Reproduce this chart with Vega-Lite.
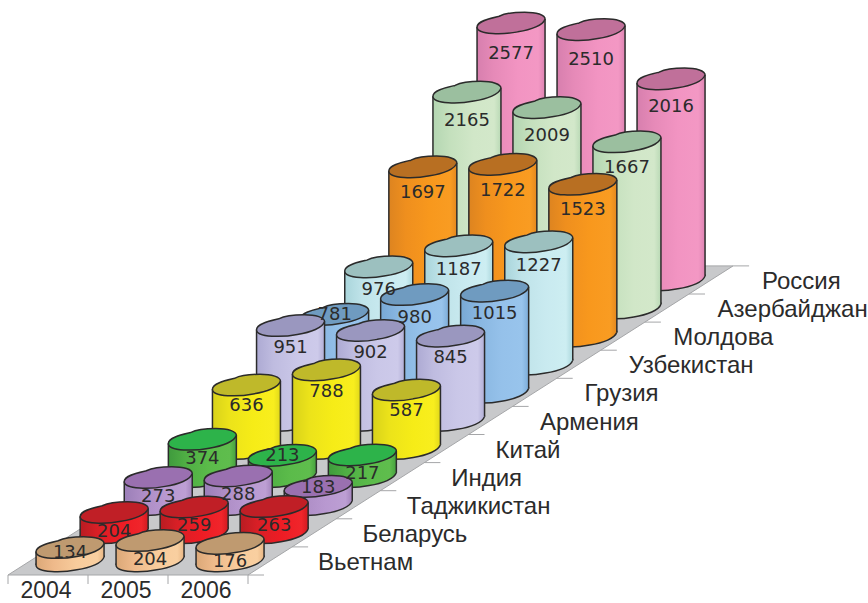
{"$schema":"https://vega.github.io/schema/vega-lite/v6.json","width":868,"height":603,"padding":0,"autosize":"none","background":"white",
"config":{"view":{"stroke":null},"axis":{"disable":true},"legend":{"disable":true},
"point":{"shape":"M-1,.12 C-1,-.06 -.6,-.14 -.35,-.2 C-.15,-.3 .1,-.32 .4,-.32 C.75,-.32 1,-.24 1,-.12 C.95,.06 .6,.2 .2,.26 C-.2,.34 -1,.36 -1,.12 Z","size":4624,"filled":true,"stroke":"#2b2b2b","strokeWidth":1.5,"opacity":1},
"rule":{"stroke":"#2b2b2b","strokeWidth":1.5}},
"datasets":{"main":[
{"country":"Вьетнам","year":2004,"value":134},{"country":"Вьетнам","year":2005,"value":204},{"country":"Вьетнам","year":2006,"value":176},
{"country":"Беларусь","year":2004,"value":204},{"country":"Беларусь","year":2005,"value":259},{"country":"Беларусь","year":2006,"value":263},
{"country":"Таджикистан","year":2004,"value":273},{"country":"Таджикистан","year":2005,"value":288},{"country":"Таджикистан","year":2006,"value":183},
{"country":"Индия","year":2004,"value":374},{"country":"Индия","year":2005,"value":213},{"country":"Индия","year":2006,"value":217},
{"country":"Китай","year":2004,"value":636},{"country":"Китай","year":2005,"value":788},{"country":"Китай","year":2006,"value":587},
{"country":"Армения","year":2004,"value":951},{"country":"Армения","year":2005,"value":902},{"country":"Армения","year":2006,"value":845},
{"country":"Грузия","year":2004,"value":781},{"country":"Грузия","year":2005,"value":980},{"country":"Грузия","year":2006,"value":1015},
{"country":"Узбекистан","year":2004,"value":976},{"country":"Узбекистан","year":2005,"value":1187},{"country":"Узбекистан","year":2006,"value":1227},
{"country":"Молдова","year":2004,"value":1697},{"country":"Молдова","year":2005,"value":1722},{"country":"Молдова","year":2006,"value":1523},
{"country":"Азербайджан","year":2004,"value":2165},{"country":"Азербайджан","year":2005,"value":2009},{"country":"Азербайджан","year":2006,"value":1667},
{"country":"Россия","year":2004,"value":2577},{"country":"Россия","year":2005,"value":2510},{"country":"Россия","year":2006,"value":2016}]},
"layer":[
{"data":{"values":[{"b":0},{"b":11}]},"transform":[{"calculate":"575-28.1*datum.b","as":"y"},{"calculate":"8+44.1*datum.b","as":"xl"},{"calculate":"248+44.1*datum.b","as":"xr"}],
 "mark":{"type":"area","orient":"horizontal","fill":"#c8c9cb","stroke":"#a5a6a8","strokeWidth":1},
 "encoding":{"x":{"field":"xl","type":"quantitative","stack":null,"scale":{"domain":[0,868],"nice":false,"zero":false}},"x2":{"field":"xr"},"y":{"field":"y","type":"quantitative","scale":{"domain":[603,0],"nice":false,"zero":false}}}},
{"data":{"values":[{"b":0},{"b":1},{"b":2},{"b":3},{"b":4},{"b":5},{"b":6},{"b":7},{"b":8},{"b":9},{"b":10},{"b":11}]},"transform":[{"calculate":"575-28.1*datum.b","as":"y"},{"calculate":"248+44.1*datum.b","as":"x"},{"calculate":"datum.x+16","as":"x2"}],
 "mark":{"type":"rule","stroke":"#a5a6a8","strokeWidth":1},"encoding":{"x":{"field":"x","type":"quantitative"},"x2":{"field":"x2"},"y":{"field":"y","type":"quantitative"}}},
{"data":{"values":[{"c":0},{"c":1},{"c":2},{"c":3}]},"transform":[{"calculate":"8+80*datum.c","as":"x"},{"calculate":"575","as":"y"},{"calculate":"584","as":"y2"}],
 "mark":{"type":"rule","stroke":"#a5a6a8","strokeWidth":1},"encoding":{"x":{"field":"x","type":"quantitative"},"y":{"field":"y","type":"quantitative"},"y2":{"field":"y2"}}},
{"data":{"name":"main"},
 "transform":[
 {"calculate":"indexof(['Вьетнам','Беларусь','Таджикистан','Индия','Китай','Армения','Грузия','Узбекистан','Молдова','Азербайджан','Россия'],datum.country)","as":"r"},
 {"calculate":"48+80*(datum.year-2004)+44.1*(datum.r+0.5)","as":"cx"},
 {"calculate":"575-28.1*(datum.r+0.5)","as":"by"},
 {"calculate":"datum.by-0.0997*datum.value","as":"ty"},
 {"calculate":"[-1,1]","as":"side"},{"flatten":["side"]},
 {"calculate":"datum.cx+34*datum.side","as":"sx"},
 {"calculate":"datum.ty-4*datum.side","as":"sty"},
 {"calculate":"datum.by-4*datum.side","as":"sby"},
 {"calculate":"datum.ty+(indexof([183,213,781],datum.value)>=0?1:datum.value==134?5:18+datum.value*0.005)","as":"ly"}],
 "layer":[
 {"transform":[{"filter":"datum.r==10"}],"layer":[
  {"transform":[{"filter":"datum.side==1"}],"mark":{"type":"point","fill":{"gradient":"linear","x1":0,"x2":1,"y1":0,"y2":0,"stops":[{"offset":0,"color":"#d77fae"},{"offset":0.25,"color":"#e68ab8"},{"offset":0.6,"color":"#f294c2"},{"offset":0.9,"color":"#f398c4"},{"offset":1,"color":"#de83b2"}]}},"encoding":{"x":{"field":"cx","type":"quantitative"},"y":{"field":"by","type":"quantitative"}}},
  {"mark":{"type":"area","fill":{"gradient":"linear","x1":0,"x2":1,"y1":0,"y2":0,"stops":[{"offset":0,"color":"#d77fae"},{"offset":0.25,"color":"#e68ab8"},{"offset":0.6,"color":"#f294c2"},{"offset":0.9,"color":"#f398c4"},{"offset":1,"color":"#de83b2"}]}},"encoding":{"x":{"field":"sx","type":"quantitative"},"y":{"field":"sty","type":"quantitative","stack":null},"y2":{"field":"sby"},"detail":{"field":"year"}}},
  {"mark":"rule","encoding":{"x":{"field":"sx","type":"quantitative"},"y":{"field":"sty","type":"quantitative"},"y2":{"field":"sby"}}},
  {"transform":[{"filter":"datum.side==1"}],"mark":{"type":"point","fill":"#c0709a"},"encoding":{"x":{"field":"cx","type":"quantitative"},"y":{"field":"ty","type":"quantitative"}}}]},
 {"transform":[{"filter":"datum.r==9"}],"layer":[
  {"transform":[{"filter":"datum.side==1"}],"mark":{"type":"point","fill":{"gradient":"linear","x1":0,"x2":1,"y1":0,"y2":0,"stops":[{"offset":0,"color":"#b4d6b2"},{"offset":0.25,"color":"#c4e0bd"},{"offset":0.6,"color":"#d1e7c8"},{"offset":0.9,"color":"#d3e8ca"},{"offset":1,"color":"#b9d9b5"}]}},"encoding":{"x":{"field":"cx","type":"quantitative"},"y":{"field":"by","type":"quantitative"}}},
  {"mark":{"type":"area","fill":{"gradient":"linear","x1":0,"x2":1,"y1":0,"y2":0,"stops":[{"offset":0,"color":"#b4d6b2"},{"offset":0.25,"color":"#c4e0bd"},{"offset":0.6,"color":"#d1e7c8"},{"offset":0.9,"color":"#d3e8ca"},{"offset":1,"color":"#b9d9b5"}]}},"encoding":{"x":{"field":"sx","type":"quantitative"},"y":{"field":"sty","type":"quantitative","stack":null},"y2":{"field":"sby"},"detail":{"field":"year"}}},
  {"mark":"rule","encoding":{"x":{"field":"sx","type":"quantitative"},"y":{"field":"sty","type":"quantitative"},"y2":{"field":"sby"}}},
  {"transform":[{"filter":"datum.side==1"}],"mark":{"type":"point","fill":"#9bbf9f"},"encoding":{"x":{"field":"cx","type":"quantitative"},"y":{"field":"ty","type":"quantitative"}}}]},
 {"transform":[{"filter":"datum.r==8"}],"layer":[
  {"transform":[{"filter":"datum.side==1"}],"mark":{"type":"point","fill":{"gradient":"linear","x1":0,"x2":1,"y1":0,"y2":0,"stops":[{"offset":0,"color":"#dd8420"},{"offset":0.25,"color":"#ef8f1e"},{"offset":0.6,"color":"#f8981d"},{"offset":0.9,"color":"#f99c22"},{"offset":1,"color":"#e38820"}]}},"encoding":{"x":{"field":"cx","type":"quantitative"},"y":{"field":"by","type":"quantitative"}}},
  {"mark":{"type":"area","fill":{"gradient":"linear","x1":0,"x2":1,"y1":0,"y2":0,"stops":[{"offset":0,"color":"#dd8420"},{"offset":0.25,"color":"#ef8f1e"},{"offset":0.6,"color":"#f8981d"},{"offset":0.9,"color":"#f99c22"},{"offset":1,"color":"#e38820"}]}},"encoding":{"x":{"field":"sx","type":"quantitative"},"y":{"field":"sty","type":"quantitative","stack":null},"y2":{"field":"sby"},"detail":{"field":"year"}}},
  {"mark":"rule","encoding":{"x":{"field":"sx","type":"quantitative"},"y":{"field":"sty","type":"quantitative"},"y2":{"field":"sby"}}},
  {"transform":[{"filter":"datum.side==1"}],"mark":{"type":"point","fill":"#b86f22"},"encoding":{"x":{"field":"cx","type":"quantitative"},"y":{"field":"ty","type":"quantitative"}}}]},
 {"transform":[{"filter":"datum.r==7"}],"layer":[
  {"transform":[{"filter":"datum.side==1"}],"mark":{"type":"point","fill":{"gradient":"linear","x1":0,"x2":1,"y1":0,"y2":0,"stops":[{"offset":0,"color":"#a9d5db"},{"offset":0.25,"color":"#bfe3e9"},{"offset":0.6,"color":"#c9eaf0"},{"offset":0.9,"color":"#cdeef2"},{"offset":1,"color":"#acd8dd"}]}},"encoding":{"x":{"field":"cx","type":"quantitative"},"y":{"field":"by","type":"quantitative"}}},
  {"mark":{"type":"area","fill":{"gradient":"linear","x1":0,"x2":1,"y1":0,"y2":0,"stops":[{"offset":0,"color":"#a9d5db"},{"offset":0.25,"color":"#bfe3e9"},{"offset":0.6,"color":"#c9eaf0"},{"offset":0.9,"color":"#cdeef2"},{"offset":1,"color":"#acd8dd"}]}},"encoding":{"x":{"field":"sx","type":"quantitative"},"y":{"field":"sty","type":"quantitative","stack":null},"y2":{"field":"sby"},"detail":{"field":"year"}}},
  {"mark":"rule","encoding":{"x":{"field":"sx","type":"quantitative"},"y":{"field":"sty","type":"quantitative"},"y2":{"field":"sby"}}},
  {"transform":[{"filter":"datum.side==1"}],"mark":{"type":"point","fill":"#9cc0bf"},"encoding":{"x":{"field":"cx","type":"quantitative"},"y":{"field":"ty","type":"quantitative"}}}]},
 {"transform":[{"filter":"datum.r==6"}],"layer":[
  {"transform":[{"filter":"datum.side==1"}],"mark":{"type":"point","fill":{"gradient":"linear","x1":0,"x2":1,"y1":0,"y2":0,"stops":[{"offset":0,"color":"#78a8d4"},{"offset":0.25,"color":"#88b6e0"},{"offset":0.6,"color":"#95c1ea"},{"offset":0.9,"color":"#98c4ec"},{"offset":1,"color":"#7cacd8"}]}},"encoding":{"x":{"field":"cx","type":"quantitative"},"y":{"field":"by","type":"quantitative"}}},
  {"mark":{"type":"area","fill":{"gradient":"linear","x1":0,"x2":1,"y1":0,"y2":0,"stops":[{"offset":0,"color":"#78a8d4"},{"offset":0.25,"color":"#88b6e0"},{"offset":0.6,"color":"#95c1ea"},{"offset":0.9,"color":"#98c4ec"},{"offset":1,"color":"#7cacd8"}]}},"encoding":{"x":{"field":"sx","type":"quantitative"},"y":{"field":"sty","type":"quantitative","stack":null},"y2":{"field":"sby"},"detail":{"field":"year"}}},
  {"mark":"rule","encoding":{"x":{"field":"sx","type":"quantitative"},"y":{"field":"sty","type":"quantitative"},"y2":{"field":"sby"}}},
  {"transform":[{"filter":"datum.side==1"}],"mark":{"type":"point","fill":"#6f9bc0"},"encoding":{"x":{"field":"cx","type":"quantitative"},"y":{"field":"ty","type":"quantitative"}}}]},
 {"transform":[{"filter":"datum.r==5"}],"layer":[
  {"transform":[{"filter":"datum.side==1"}],"mark":{"type":"point","fill":{"gradient":"linear","x1":0,"x2":1,"y1":0,"y2":0,"stops":[{"offset":0,"color":"#adaad3"},{"offset":0.25,"color":"#bfbce0"},{"offset":0.6,"color":"#cac7e8"},{"offset":0.9,"color":"#cdcaea"},{"offset":1,"color":"#b2afd6"}]}},"encoding":{"x":{"field":"cx","type":"quantitative"},"y":{"field":"by","type":"quantitative"}}},
  {"mark":{"type":"area","fill":{"gradient":"linear","x1":0,"x2":1,"y1":0,"y2":0,"stops":[{"offset":0,"color":"#adaad3"},{"offset":0.25,"color":"#bfbce0"},{"offset":0.6,"color":"#cac7e8"},{"offset":0.9,"color":"#cdcaea"},{"offset":1,"color":"#b2afd6"}]}},"encoding":{"x":{"field":"sx","type":"quantitative"},"y":{"field":"sty","type":"quantitative","stack":null},"y2":{"field":"sby"},"detail":{"field":"year"}}},
  {"mark":"rule","encoding":{"x":{"field":"sx","type":"quantitative"},"y":{"field":"sty","type":"quantitative"},"y2":{"field":"sby"}}},
  {"transform":[{"filter":"datum.side==1"}],"mark":{"type":"point","fill":"#9a97bf"},"encoding":{"x":{"field":"cx","type":"quantitative"},"y":{"field":"ty","type":"quantitative"}}}]},
 {"transform":[{"filter":"datum.r==4"}],"layer":[
  {"transform":[{"filter":"datum.side==1"}],"mark":{"type":"point","fill":{"gradient":"linear","x1":0,"x2":1,"y1":0,"y2":0,"stops":[{"offset":0,"color":"#d8d21a"},{"offset":0.25,"color":"#ece31a"},{"offset":0.6,"color":"#f6ec17"},{"offset":0.9,"color":"#f8ee1e"},{"offset":1,"color":"#e0d81a"}]}},"encoding":{"x":{"field":"cx","type":"quantitative"},"y":{"field":"by","type":"quantitative"}}},
  {"mark":{"type":"area","fill":{"gradient":"linear","x1":0,"x2":1,"y1":0,"y2":0,"stops":[{"offset":0,"color":"#d8d21a"},{"offset":0.25,"color":"#ece31a"},{"offset":0.6,"color":"#f6ec17"},{"offset":0.9,"color":"#f8ee1e"},{"offset":1,"color":"#e0d81a"}]}},"encoding":{"x":{"field":"sx","type":"quantitative"},"y":{"field":"sty","type":"quantitative","stack":null},"y2":{"field":"sby"},"detail":{"field":"year"}}},
  {"mark":"rule","encoding":{"x":{"field":"sx","type":"quantitative"},"y":{"field":"sty","type":"quantitative"},"y2":{"field":"sby"}}},
  {"transform":[{"filter":"datum.side==1"}],"mark":{"type":"point","fill":"#bfb92a"},"encoding":{"x":{"field":"cx","type":"quantitative"},"y":{"field":"ty","type":"quantitative"}}}]},
 {"transform":[{"filter":"datum.r==3"}],"layer":[
  {"transform":[{"filter":"datum.side==1"}],"mark":{"type":"point","fill":{"gradient":"linear","x1":0,"x2":1,"y1":0,"y2":0,"stops":[{"offset":0,"color":"#3f9a3d"},{"offset":0.25,"color":"#4fae44"},{"offset":0.6,"color":"#5bbb4a"},{"offset":0.9,"color":"#5fbd4d"},{"offset":1,"color":"#45a03f"}]}},"encoding":{"x":{"field":"cx","type":"quantitative"},"y":{"field":"by","type":"quantitative"}}},
  {"mark":{"type":"area","fill":{"gradient":"linear","x1":0,"x2":1,"y1":0,"y2":0,"stops":[{"offset":0,"color":"#3f9a3d"},{"offset":0.25,"color":"#4fae44"},{"offset":0.6,"color":"#5bbb4a"},{"offset":0.9,"color":"#5fbd4d"},{"offset":1,"color":"#45a03f"}]}},"encoding":{"x":{"field":"sx","type":"quantitative"},"y":{"field":"sty","type":"quantitative","stack":null},"y2":{"field":"sby"},"detail":{"field":"year"}}},
  {"mark":"rule","encoding":{"x":{"field":"sx","type":"quantitative"},"y":{"field":"sty","type":"quantitative"},"y2":{"field":"sby"}}},
  {"transform":[{"filter":"datum.side==1"}],"mark":{"type":"point","fill":"#2db34a"},"encoding":{"x":{"field":"cx","type":"quantitative"},"y":{"field":"ty","type":"quantitative"}}}]},
 {"transform":[{"filter":"datum.r==2"}],"layer":[
  {"transform":[{"filter":"datum.side==1"}],"mark":{"type":"point","fill":{"gradient":"linear","x1":0,"x2":1,"y1":0,"y2":0,"stops":[{"offset":0,"color":"#9b7fb8"},{"offset":0.25,"color":"#ac8cc4"},{"offset":0.6,"color":"#b898d0"},{"offset":0.9,"color":"#bd9fd4"},{"offset":1,"color":"#a384bc"}]}},"encoding":{"x":{"field":"cx","type":"quantitative"},"y":{"field":"by","type":"quantitative"}}},
  {"mark":{"type":"area","fill":{"gradient":"linear","x1":0,"x2":1,"y1":0,"y2":0,"stops":[{"offset":0,"color":"#9b7fb8"},{"offset":0.25,"color":"#ac8cc4"},{"offset":0.6,"color":"#b898d0"},{"offset":0.9,"color":"#bd9fd4"},{"offset":1,"color":"#a384bc"}]}},"encoding":{"x":{"field":"sx","type":"quantitative"},"y":{"field":"sty","type":"quantitative","stack":null},"y2":{"field":"sby"},"detail":{"field":"year"}}},
  {"mark":"rule","encoding":{"x":{"field":"sx","type":"quantitative"},"y":{"field":"sty","type":"quantitative"},"y2":{"field":"sby"}}},
  {"transform":[{"filter":"datum.side==1"}],"mark":{"type":"point","fill":"#9a70b0"},"encoding":{"x":{"field":"cx","type":"quantitative"},"y":{"field":"ty","type":"quantitative"}}}]},
 {"transform":[{"filter":"datum.r==1"}],"layer":[
  {"transform":[{"filter":"datum.side==1"}],"mark":{"type":"point","fill":{"gradient":"linear","x1":0,"x2":1,"y1":0,"y2":0,"stops":[{"offset":0,"color":"#b81c22"},{"offset":0.25,"color":"#d81f26"},{"offset":0.6,"color":"#ed1c24"},{"offset":0.9,"color":"#f0252b"},{"offset":1,"color":"#d11a20"}]}},"encoding":{"x":{"field":"cx","type":"quantitative"},"y":{"field":"by","type":"quantitative"}}},
  {"mark":{"type":"area","fill":{"gradient":"linear","x1":0,"x2":1,"y1":0,"y2":0,"stops":[{"offset":0,"color":"#b81c22"},{"offset":0.25,"color":"#d81f26"},{"offset":0.6,"color":"#ed1c24"},{"offset":0.9,"color":"#f0252b"},{"offset":1,"color":"#d11a20"}]}},"encoding":{"x":{"field":"sx","type":"quantitative"},"y":{"field":"sty","type":"quantitative","stack":null},"y2":{"field":"sby"},"detail":{"field":"year"}}},
  {"mark":"rule","encoding":{"x":{"field":"sx","type":"quantitative"},"y":{"field":"sty","type":"quantitative"},"y2":{"field":"sby"}}},
  {"transform":[{"filter":"datum.side==1"}],"mark":{"type":"point","fill":"#c01f26"},"encoding":{"x":{"field":"cx","type":"quantitative"},"y":{"field":"ty","type":"quantitative"}}}]},
 {"transform":[{"filter":"datum.r==0"}],"layer":[
  {"transform":[{"filter":"datum.side==1"}],"mark":{"type":"point","fill":{"gradient":"linear","x1":0,"x2":1,"y1":0,"y2":0,"stops":[{"offset":0,"color":"#dba878"},{"offset":0.25,"color":"#eeb98a"},{"offset":0.6,"color":"#f8cc9c"},{"offset":0.9,"color":"#f9cfa0"},{"offset":1,"color":"#e8b684"}]}},"encoding":{"x":{"field":"cx","type":"quantitative"},"y":{"field":"by","type":"quantitative"}}},
  {"mark":{"type":"area","fill":{"gradient":"linear","x1":0,"x2":1,"y1":0,"y2":0,"stops":[{"offset":0,"color":"#dba878"},{"offset":0.25,"color":"#eeb98a"},{"offset":0.6,"color":"#f8cc9c"},{"offset":0.9,"color":"#f9cfa0"},{"offset":1,"color":"#e8b684"}]}},"encoding":{"x":{"field":"sx","type":"quantitative"},"y":{"field":"sty","type":"quantitative","stack":null},"y2":{"field":"sby"},"detail":{"field":"year"}}},
  {"mark":"rule","encoding":{"x":{"field":"sx","type":"quantitative"},"y":{"field":"sty","type":"quantitative"},"y2":{"field":"sby"}}},
  {"transform":[{"filter":"datum.side==1"}],"mark":{"type":"point","fill":"#bf9a70"},"encoding":{"x":{"field":"cx","type":"quantitative"},"y":{"field":"ty","type":"quantitative"}}}]},
 {"transform":[{"filter":"datum.side==1"}],"mark":{"type":"text","font":"DejaVu Sans","fontSize":18,"baseline":"middle","align":"center","fill":"#2b2b2b"},"encoding":{"x":{"field":"cx","type":"quantitative"},"y":{"field":"ly","type":"quantitative"},"text":{"field":"value"}}}
 ]},
{"data":{"values":[{"year":"2004"},{"year":"2005"},{"year":"2006"}]},"transform":[{"calculate":"46+80*(toNumber(datum.year)-2004)","as":"x"},{"calculate":"590.5","as":"y"}],
 "mark":{"type":"text","font":"Liberation Sans","fontSize":23,"baseline":"middle","align":"center","fill":"#2b2b2b"},"encoding":{"x":{"field":"x","type":"quantitative"},"y":{"field":"y","type":"quantitative"},"text":{"field":"year"}}},
{"data":{"values":[{"country":"Вьетнам"},{"country":"Беларусь"},{"country":"Таджикистан"},{"country":"Индия"},{"country":"Китай"},{"country":"Армения"},{"country":"Грузия"},{"country":"Узбекистан"},{"country":"Молдова"},{"country":"Азербайджан"},{"country":"Россия"}]},
 "transform":[{"calculate":"indexof(['Вьетнам','Беларусь','Таджикистан','Индия','Китай','Армения','Грузия','Узбекистан','Молдова','Азербайджан','Россия'],datum.country)","as":"r"},{"calculate":"318+44.4*datum.r","as":"x"},{"calculate":"563-28.1*datum.r","as":"y"}],
 "mark":{"type":"text","font":"Liberation Sans","fontSize":24,"baseline":"middle","align":"left","fill":"#2b2b2b"},"encoding":{"x":{"field":"x","type":"quantitative"},"y":{"field":"y","type":"quantitative"},"text":{"field":"country"}}}
]}
